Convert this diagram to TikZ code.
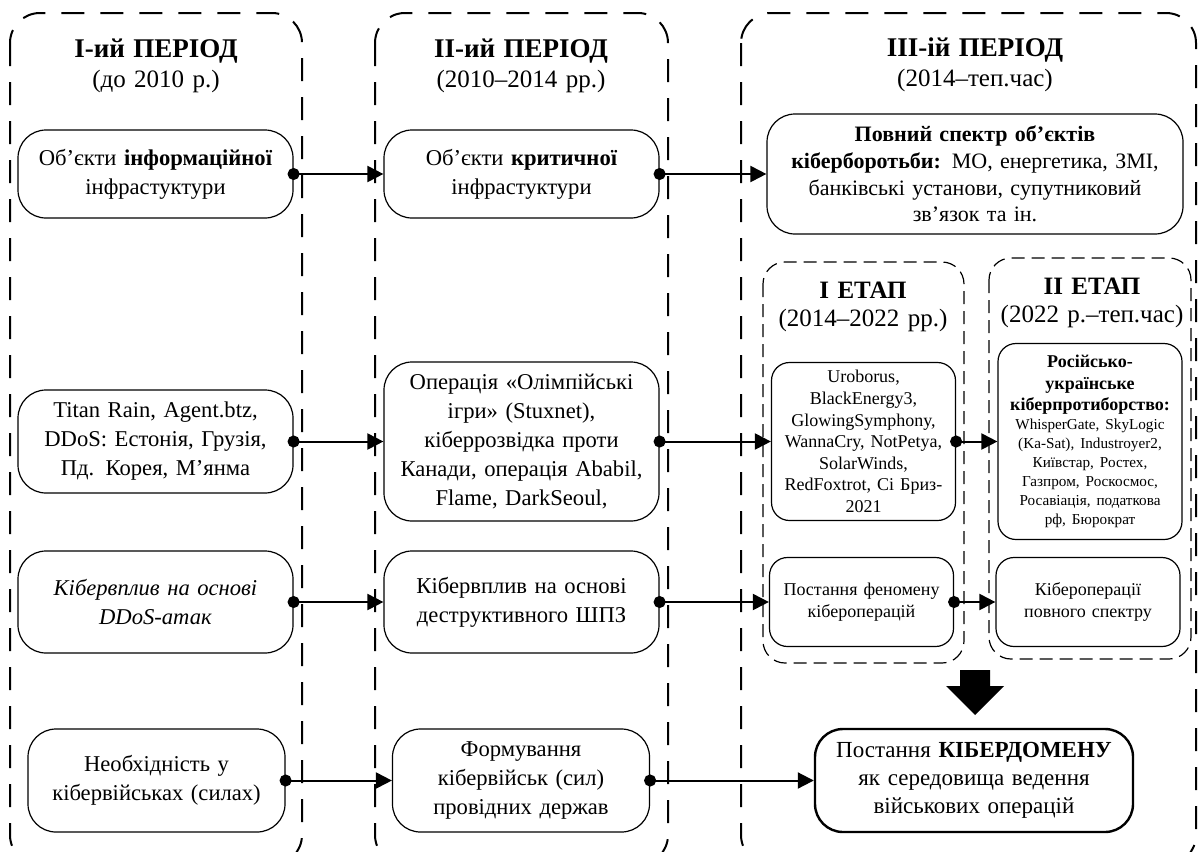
\documentclass[tikz,border=0pt]{standalone}
\usepackage{fontspec}
\setmainfont{Liberation Serif}
\usetikzlibrary{arrows.meta}

\begin{document}
\begin{tikzpicture}[x=0.5pt,y=-0.5pt,
  period/.style={draw,line width=1pt,dash pattern=on 11.5pt off 8pt,rounded corners=15pt},
  stage/.style={draw,line width=0.6pt,dash pattern=on 6.5pt off 3.5pt,rounded corners=11pt},
  title/.style={inner sep=0pt,align=center,text width=150pt,font=\fontsize{12.5}{15}\selectfont},
  box/.style={draw,line width=0.6pt,rounded corners=14pt,inner sep=2pt,align=center,font=\fontsize{11.3}{14.5}\selectfont},
  sbox/.style={box,rounded corners=9pt,font=\fontsize{9}{10.8}\selectfont},
  link/.style={line width=1pt,shorten <=-3pt,{Circle[length=6pt]}-{Triangle[length=8pt,width=8pt]}}]
  \useasboundingbox (0,0) rectangle (1198,851);
  \clip (0,0) rectangle (1198,851);
  \draw[period] (10,13) rectangle (302,865);
  \draw[period] (375,13) rectangle (668,865);
  \draw[period] (741,13) rectangle (1196,865);
  \draw[stage] (763,262) rectangle (964,663);
  \draw[stage] (989,258) rectangle (1191,659);

  \node[title] (t1) at (156,66) {{\fontsize{13.5}{15}\selectfont\bfseries I-ий ПЕРІОД}\\(до 2010 р.)};
  \node[title] (t2) at (521,66) {{\fontsize{13.5}{15}\selectfont\bfseries II-ий ПЕРІОД}\\(2010–2014 рр.)};
  \node[title] (t3) at (975,65) {{\fontsize{13.5}{15}\selectfont\bfseries III-ій ПЕРІОД}\\(2014–теп.час)};
  \node[title,text width=95pt,font=\fontsize{12.5}{14}\selectfont] (e1) at (863,307) {\textbf{I ЕТАП}\\(2014–2022 рр.)};
  \node[title,text width=95pt,font=\fontsize{12.5}{14}\selectfont] (e2) at (1092,303) {\textbf{II ЕТАП}\\(2022 р.–теп.час)};

  \node[box,minimum width=137.5pt,minimum height=44pt,text width=132pt] (a1) at (155.5,174) {Об’єкти \textbf{інформаційної}\\інфрастуктури};
  \node[box,minimum width=137.5pt,minimum height=44pt,text width=132pt] (b1) at (521.5,174) {Об’єкти \textbf{критичної}\\інфрастуктури};
  \node[box,minimum width=208pt,minimum height=60pt,text width=202pt,font=\fontsize{11}{13.3}\selectfont] (c1) at (975,174) {\textbf{Повний спектр об’єктів}\\\textbf{кіберборотьби:} МО, енергетика, ЗМІ,\\банківські установи, супутниковий\\зв’язок та ін.};

  \node[box,minimum width=137.5pt,minimum height=51.5pt,text width=132pt] (a2) at (155.5,441.5) {Titan Rain, Agent.btz,\\DDoS: Естонія, Грузія,\\Пд. Корея, М’янма};
  \node[box,minimum width=137.5pt,minimum height=79.5pt,text width=132pt] (b2) at (521.5,441.5) {Операція «Олімпійські\\ігри» (Stuxnet),\\кіберрозвідка проти\\Канади, операція Ababil,\\Flame, DarkSeoul,};
  \node[sbox,minimum width=91.5pt,minimum height=79pt,text width=88pt] (c2) at (863.5,441.5) {Uroborus,\\BlackEnergy3,\\GlowingSymphony,\\WannaCry, NotPetya,\\SolarWinds,\\RedFoxtrot, Сі Бриз-\\2021};
  \node[sbox,minimum width=92pt,minimum height=98pt,text width=88pt] (d2) at (1090,441.5) {\textbf{Російсько-\\українське\\кіберпротиборство:}\par
    {\fontsize{7.6}{9.5}\selectfont WhisperGate, SkyLogic\\(Ka-Sat), Industroyer2,\\Київстар, Ростех,\\Газпром, Роскосмос,\\Росавіація, податкова\\рф, Бюрократ\par}};

  \node[box,minimum width=137.5pt,minimum height=51pt,text width=132pt] (a3) at (155.5,602) {\textit{Кібервплив на основі}\\\textit{DDoS-атак}};
  \node[box,minimum width=137.5pt,minimum height=51pt,text width=132pt] (b3) at (521.5,602) {Кібервплив на основі\\деструктивного ШПЗ};
  \node[sbox,minimum width=91.5pt,minimum height=44.5pt,text width=88pt] (c3) at (861.5,602) {Постання феномену\\кібероперацій};
  \node[sbox,minimum width=92pt,minimum height=44.5pt,text width=88pt] (d3) at (1088,602) {Кібероперації\\повного спектру};

  \node[box,minimum width=128.5pt,minimum height=51.5pt,text width=124pt] (a4) at (156.5,780.5) {Необхідність у\\кібервійськах (силах)};
  \node[box,minimum width=128.5pt,minimum height=51.5pt,text width=124pt] (b4) at (521,780.5) {Формування\\кібервійськ (сил)\\провідних держав};
  \node[box,line width=1.2pt,minimum width=159pt,minimum height=51.5pt,text width=154pt,font=\fontsize{11.5}{14}\selectfont] (c4) at (974,780.5) {Постання \textbf{КІБЕРДОМЕНУ}\\як середовища ведення\\військових операцій};

  \fill (960,670) -- (990,670) -- (990,686) -- (1004,686) -- (975,715) -- (946,686) -- (960,686) -- cycle;

  \draw[link] (a1.east) -- (b1.west);
  \draw[link] (b1.east) -- (c1.west);
  \draw[link] (a2.east) -- (b2.west);
  \draw[link] (b2.east) -- (c2.west);
  \draw[link] (c2.east) -- (d2.west);
  \draw[link] (a3.east) -- (b3.west);
  \draw[link] (b3.east) -- (c3.west);
  \draw[link] (c3.east) -- (d3.west);
  \draw[link] (a4.east) -- (b4.west);
  \draw[link] (b4.east) -- (c4.west);
\end{tikzpicture}
\end{document}
